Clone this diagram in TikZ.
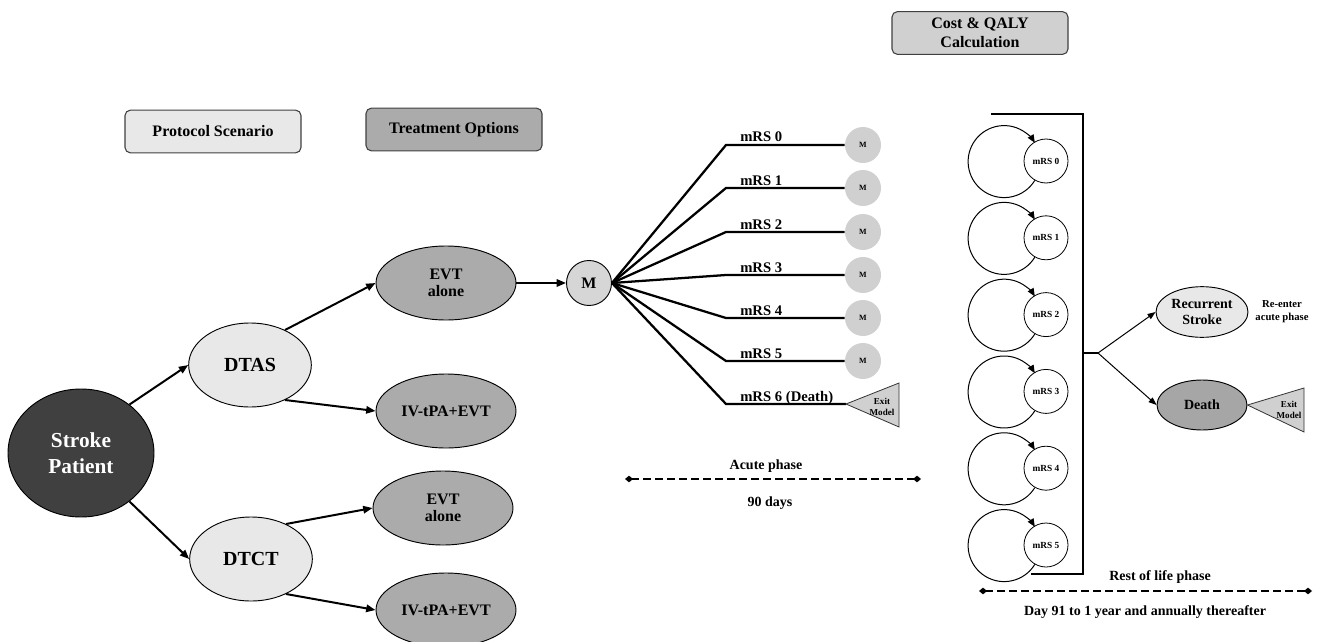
\documentclass[tikz,border=0pt]{standalone}
\usepackage{fontspec}
\setmainfont{Liberation Serif}
\usetikzlibrary{arrows.meta,shapes.geometric}
\definecolor{paleg}{HTML}{E8E8E8}
\definecolor{treatg}{HTML}{ABABAB}
\definecolor{patientg}{HTML}{404040}
\definecolor{markovg}{HTML}{D6D6D6}
\definecolor{costg}{HTML}{D0D0D0}
\definecolor{deathg}{HTML}{A6A6A6}
\tikzset{
  header/.style={rounded corners=4pt,draw=black!75,line width=0.8pt,minimum width=132pt,minimum height=32pt,inner sep=0pt,align=center,font=\bfseries\fontsize{12}{14.5}\selectfont},
  patientnode/.style={ellipse,draw=black,fill=patientg,line width=0.7pt,minimum width=109.5pt,minimum height=96pt,inner sep=0pt,align=center,text=white,font=\bfseries\fontsize{16}{19.5}\selectfont},
  scen/.style={ellipse,draw=black,fill=paleg,line width=0.7pt,inner sep=0pt,minimum width=92pt,minimum height=63pt,font=\bfseries\fontsize{15}{17}\selectfont},
  opt/.style={ellipse,draw=black,fill=treatg,line width=0.7pt,inner sep=0pt,minimum width=105pt,minimum height=55.5pt,align=center,font=\bfseries\fontsize{12}{12.75}\selectfont},
  mnode/.style={circle,draw=black,fill=markovg,line width=0.7pt,inner sep=0pt,minimum size=33.75pt,font=\bfseries\fontsize{12}{13}\selectfont},
  msmall/.style={circle,fill=costg,inner sep=0pt,minimum size=27pt,font=\bfseries\fontsize{6}{7}\selectfont},
  mrsstate/.style={circle,draw=black,line width=0.6pt,inner sep=0pt,minimum size=33pt,font=\bfseries\fontsize{7}{8}\selectfont},
  eventnode/.style={ellipse,draw=black,line width=0.7pt,inner sep=0pt,minimum width=69pt,minimum height=38pt,align=center,font=\bfseries\fontsize{10.5}{12}\selectfont},
  exitshape/.style={draw=black!80,fill=costg,line width=0.6pt},
  exittext/.style={align=center,inner sep=0pt,font=\bfseries\fontsize{6.8}{8.5}\selectfont},
  lbl/.style={inner sep=0pt,font=\bfseries\fontsize{11}{13}\selectfont},
  phase/.style={inner sep=0pt,font=\bfseries\fontsize{10.5}{12}\selectfont},
  arr/.style={-{Triangle[length=7pt,width=5.5pt]},line width=1.5pt},
  arrthin/.style={-{Triangle[length=6pt,width=4.5pt]},line width=0.75pt},
  looparr/.style={-{Triangle[length=6pt,width=5pt]},line width=0.75pt},
  branch/.style={line width=1.7pt},
  timeline/.style={{Diamond[length=6pt,width=5pt]}-{Diamond[length=6pt,width=5pt]},line width=1.5pt,dash pattern=on 6pt off 3pt}
}
\begin{document}
\begin{tikzpicture}[x=0.75pt,y=-0.75pt]
\useasboundingbox (0,0) rectangle (1317,642);
\node[header,fill=paleg] (proto) at (213,131.5) {Protocol Scenario};
\node[header,fill=treatg] (treat) at (454,129.5) {Treatment Options};
\node[header,fill=costg] (cost) at (980,33) {Cost \& QALY\\Calculation};

\node[patientnode] (patient) at (81,453) {Stroke\\Patient};
\node[scen] (dtas) at (250,365) {DTAS};
\node[scen] (dtct) at (251,559) {DTCT};
\node[opt] (evt1) at (446,283) {EVT\\alone};
\node[opt] (tpa1) at (446,411) {IV-tPA+EVT};
\node[opt] (evt2) at (443,508) {EVT\\alone};
\node[opt] (tpa2) at (446,610) {IV-tPA+EVT};
\node[mnode] (m) at (589,283) {M};
\draw[arr] (patient.45) -- (dtas.west);
\draw[arr] (patient.-45) -- (dtct.west);
\draw[arr] (dtas.45) -- (evt1.west);
\draw[arr] (dtas.-45) -- (tpa1.west);
\draw[arr] (dtct.45) -- (evt2.west);
\draw[arr] (dtct.-45) -- (tpa2.west);
\draw[arr] (evt1.east) -- (m.west);

\foreach \k/\y in {0/145,1/188,2/232,3/275,4/318,5/361}{
\node[msmall] (ms\k) at (863,\y) {M};
\coordinate (bend\k) at (726,\y);
\draw[branch] (m.east) -- (bend\k) -- (ms\k.west);
\node[lbl,anchor=base west] (lab\k) at (740,\y-3) {mRS \k};
}
\coordinate (bend6) at (726,404);
\coordinate (exit1) at (846,404);
\draw[branch] (m.east) -- (bend6) -- (exit1);
\node[lbl,anchor=base west] (lab6) at (740,401) {mRS 6 (Death)};
\draw[exitshape] (exit1) -- (899,383) -- (899,427) -- cycle;
\node[exittext] (exitlbl1) at (882,407) {Exit\\Model};

\coordinate (acs) at (625,479);
\coordinate (ace) at (921,479);
\draw[timeline] (acs) -- (ace);
\node[phase] (acute) at (766,466) {Acute phase};
\node[phase] (days) at (770,503) {90 days};

\foreach \k in {0,...,5}{
\node[mrsstate] (s\k) at (1046,161+76.8*\k) {mRS \k};
\draw[looparr] (s\k.240) arc[start angle=-31.5,delta angle=-297,radius=27pt];
}
\coordinate (brtl) at (991,114);
\coordinate (brtr) at (1083,114);
\coordinate (brbr) at (1083,574);
\coordinate (brbl) at (1031,574);
\draw[line width=0.8pt] (brtl) -- (brtr) -- (brbr) -- (brbl);
\coordinate (brmid) at (1083,353);
\coordinate (fork) at (1098,353);
\draw[line width=0.8pt] (brmid) -- (fork);
\node[eventnode,fill=paleg] (recur) at (1202,312) {Recurrent\\Stroke};
\node[eventnode,fill=deathg,minimum width=67.5pt,minimum height=37.5pt] (death) at (1202,405) {Death};
\draw[arrthin] (fork) -- (recur.west);
\draw[arrthin] (fork) -- (death.west);
\node[align=center,inner sep=0pt,font=\bfseries\fontsize{8}{9.75}\selectfont] (reenter) at (1282,312) {Re-enter\\acute phase};
\draw[exitshape] (death.east) -- (1304,388) -- (1304,432) -- cycle;
\node[exittext] (exitlbl2) at (1289,410) {Exit\\Model};

\coordinate (rls) at (979,591);
\coordinate (rle) at (1312,591);
\draw[timeline] (rls) -- (rle);
\node[phase] (rest) at (1160,577) {Rest of life phase};
\node[phase] (annual) at (1145,612) {Day 91 to 1 year and annually thereafter};
\end{tikzpicture}
\end{document}
